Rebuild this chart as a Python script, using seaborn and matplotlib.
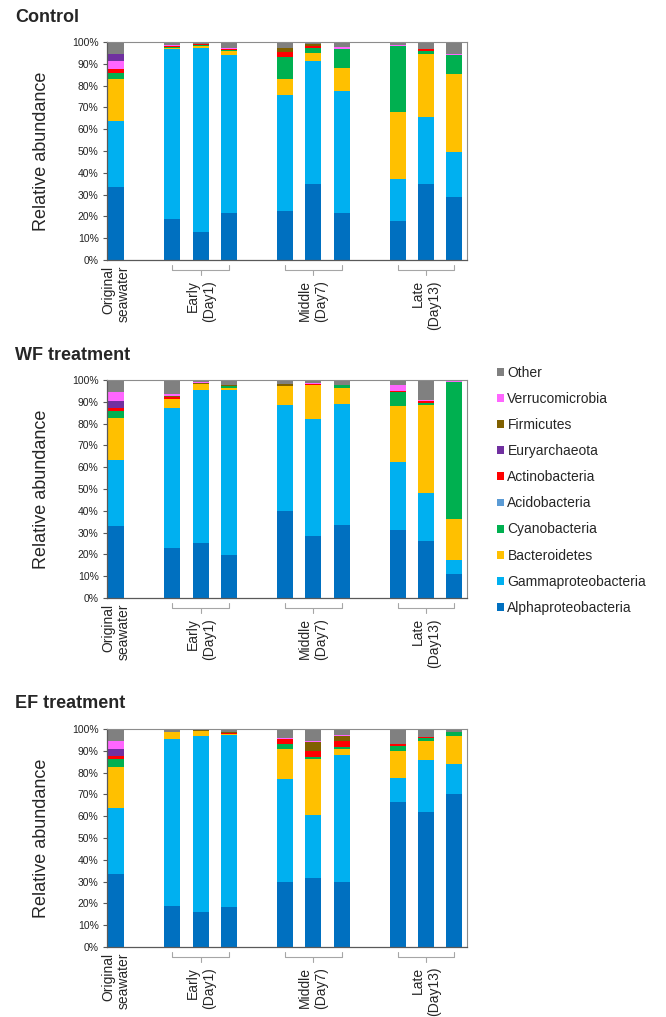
import matplotlib
matplotlib.use("Agg")
import pandas as pd
import seaborn as sns
import matplotlib.pyplot as plt
import matplotlib.transforms as mtransforms
from matplotlib.patches import Patch

# taxa, bottom to top as in the legend
taxa = ["Alphaproteobacteria", "Gammaproteobacteria", "Bacteroidetes",
        "Cyanobacteria", "Acidobacteria", "Actinobacteria", "Euryarchaeota",
        "Firmicutes", "Verrucomicrobia", "Other"]
colors = ["#0070C0", "#00B0F0", "#FFC000", "#00B050", "#5B9BD5",
          "#FF0000", "#7030A0", "#7F6000", "#FF66FF", "#808080"]

positions = [0, 2, 3, 4, 6, 7, 8, 10, 11, 12]
first_label = "Original\nseawater"
group_pos = [3, 7, 11]
group_labels = ["Early\n(Day1)", "Middle\n(Day7)", "Late\n(Day13)"]

# Control
ctrl_alpha = [33.6, 19.0, 13.0, 21.7, 22.5, 34.7, 21.4, 18.0, 34.9, 28.7]
ctrl_gamma = [30.3, 77.6, 84.4, 72.3, 53.0, 56.6, 56.0, 19.3, 30.5, 20.8]
ctrl_bact = [19.0, 0.8, 0.9, 1.9, 7.4, 3.5, 10.7, 30.4, 29.1, 35.7]
ctrl_cyano = [3.0, 0.2, 0.2, 0.5, 10.1, 2.3, 8.8, 30.3, 1.5, 8.7]
ctrl_acido = [0, 0, 0, 0, 0, 0, 0, 0, 0, 0]
ctrl_actino = [1.5, 0.5, 0.5, 0.2, 2.3, 1.2, 0, 0, 0.6, 0]
ctrl_eury = [3.2, 0, 0, 0, 0, 0, 0, 0, 0, 0]
ctrl_firm = [0, 0, 0.1, 0, 1.8, 0.9, 0, 0, 0, 0]
ctrl_verru = [4.0, 0.3, 0, 0.6, 0, 0, 0.6, 0.6, 0, 0.6]
ctrl_other = [5.4, 1.6, 0.9, 2.8, 2.9, 0.8, 2.5, 1.4, 3.4, 5.5]

# WF treatment
wf_alpha = [33.1, 22.9, 25.3, 19.5, 39.7, 28.6, 33.6, 31.4, 26.1, 11.0]
wf_gamma = [30.4, 64.4, 70.1, 75.9, 48.8, 53.4, 55.4, 31.0, 22.1, 6.4]
wf_bact = [18.9, 3.8, 2.6, 1.1, 8.9, 15.7, 7.5, 25.9, 40.3, 18.8]
wf_cyano = [3.4, 0.3, 0, 0.6, 0, 0, 1.2, 6.2, 1.0, 63.0]
wf_acido = [0, 0, 0, 0, 0, 0, 0, 0, 0, 0]
wf_actino = [1.2, 0.8, 0.3, 0.3, 0, 0.5, 0, 0.3, 0.9, 0]
wf_eury = [3.4, 0.2, 0, 0, 0, 0, 0, 0, 0, 0]
wf_firm = [0, 0.3, 0.3, 0.3, 0.6, 0, 0, 0, 0, 0]
wf_verru = [4.0, 1.0, 0.3, 0, 0, 0.3, 0, 2.9, 0.4, 0.2]
wf_other = [5.6, 6.3, 1.1, 2.3, 2.0, 1.5, 2.3, 2.3, 9.2, 0.6]

# EF treatment
ef_alpha = [33.4, 18.7, 16.1, 18.4, 29.8, 31.7, 30.0, 66.3, 61.9, 70.2]
ef_gamma = [30.4, 76.9, 80.8, 78.7, 47.2, 28.9, 58.3, 11.4, 23.9, 13.8]
ef_bact = [18.9, 2.9, 2.0, 0.8, 14.0, 25.7, 2.4, 12.1, 8.7, 12.8]
ef_cyano = [3.5, 0, 0, 0, 1.9, 0.8, 0.9, 2.4, 1.4, 1.7]
ef_acido = [0, 0, 0, 0, 0, 0, 0, 0, 0, 0]
ef_actino = [1.2, 0, 0.3, 0.3, 2.5, 2.6, 3.1, 0.9, 0.5, 0]
ef_eury = [3.2, 0, 0, 0, 0, 0, 0, 0, 0, 0]
ef_firm = [0, 0, 0.2, 0.3, 0, 4.3, 1.9, 0, 0, 0]
ef_verru = [4.0, 0.3, 0, 0, 0.6, 0.5, 0.5, 0, 0, 0]
ef_other = [5.4, 1.2, 0.6, 1.5, 4.0, 5.5, 2.9, 6.9, 3.6, 1.5]

ctrl_cols = [ctrl_alpha, ctrl_gamma, ctrl_bact, ctrl_cyano, ctrl_acido,
             ctrl_actino, ctrl_eury, ctrl_firm, ctrl_verru, ctrl_other]
wf_cols = [wf_alpha, wf_gamma, wf_bact, wf_cyano, wf_acido,
           wf_actino, wf_eury, wf_firm, wf_verru, wf_other]
ef_cols = [ef_alpha, ef_gamma, ef_bact, ef_cyano, ef_acido,
           ef_actino, ef_eury, ef_firm, ef_verru, ef_other]

# control chart stacks Verrucomicrobia below Euryarchaeota
ctrl_stack = ["Alphaproteobacteria", "Gammaproteobacteria", "Bacteroidetes",
              "Cyanobacteria", "Acidobacteria", "Actinobacteria",
              "Verrucomicrobia", "Euryarchaeota", "Firmicutes", "Other"]

sns.set_style("ticks")
plt.rcParams["font.family"] = ["Liberation Sans", "DejaVu Sans"]

palette = dict(zip(taxa, colors))


def to_long(cols):
    rows = []
    for name, vals in zip(taxa, cols):
        for p, v in zip(positions, vals):
            rows.append({"pos": p, "taxon": name, "value": v})
    return pd.DataFrame(rows)


W, H = 666, 1017
fig = plt.figure(figsize=(W / 100, H / 100), dpi=100)

panels = [
    ("Control", ctrl_cols, ctrl_stack, 260),
    ("WF treatment", wf_cols, taxa, 598),
    ("EF treatment", ef_cols, taxa, 947),
]
ax_left, ax_w, ax_h = 107, 360, 218

for title, cols, stack, bottom_px in panels:
    ax = fig.add_axes([ax_left / W, 1 - bottom_px / H, ax_w / W, ax_h / H])
    df = to_long(cols)
    # histplot puts the first hue level on top
    sns.histplot(data=df, x="pos", weights="value", hue="taxon",
                 hue_order=stack[::-1], palette=palette, multiple="stack",
                 discrete=True, shrink=0.57, alpha=1, linewidth=0,
                 edgecolor="none", legend=False, ax=ax)
    ax.set_xlim(-0.32, 12.45)
    ax.set_ylim(0, 100)
    ax.set_yticks(range(0, 101, 10))
    ax.set_yticklabels([f"{v}%" for v in range(0, 101, 10)], fontsize=7.5,
                       color="#222222")
    ax.tick_params(axis="y", length=3, width=0.8, color="#595959", pad=3)
    ax.set_xticks([0])
    ax.set_xticklabels([first_label], rotation=90, fontsize=10,
                       ha="center", va="top", multialignment="right")
    ax.tick_params(axis="x", length=0, pad=4)
    ax.set_xlabel("")
    ax.set_ylabel("Relative abundance", fontsize=13)
    ax.yaxis.set_label_coords(-0.158, 0.5)
    for side in ["top", "right"]:
        ax.spines[side].set_visible(True)
        ax.spines[side].set_color("#8c8c8c")
        ax.spines[side].set_linewidth(0.8)
    for side in ["left", "bottom"]:
        ax.spines[side].set_color("#595959")
        ax.spines[side].set_linewidth(0.9)

    # group brackets under the axis
    trans = mtransforms.blended_transform_factory(ax.transData, ax.transAxes)
    y_line, y_up, y_down = -10 / ax_h, -5 / ax_h, -15 / ax_h
    for g, lab in zip(group_pos, group_labels):
        ax.plot([g - 1, g - 1, g + 1, g + 1], [y_up, y_line, y_line, y_up],
                color="#a6a6a6", lw=0.8, transform=trans, clip_on=False)
        ax.plot([g, g], [y_line, y_down], color="#a6a6a6", lw=0.8,
                transform=trans, clip_on=False)
        ax.text(g, -20 / ax_h, lab, transform=trans, rotation=90, fontsize=10,
                ha="center", va="top", multialignment="right")

    top_px = bottom_px - ax_h
    fig.text(15 / W, 1 - (top_px - 25) / H, title, fontsize=13,
             fontweight="bold", va="center", ha="left")

handles = [Patch(facecolor=c, edgecolor="none") for c in colors[::-1]]
fig.legend(handles, taxa[::-1], loc="upper left",
           bbox_to_anchor=(497 / W, 1 - 366 / H), frameon=False,
           fontsize=10, handlelength=0.5, handleheight=0.5,
           handletextpad=0.25, labelspacing=0.87, borderpad=0,
           borderaxespad=0)

fig.savefig("out.png", dpi=100)
